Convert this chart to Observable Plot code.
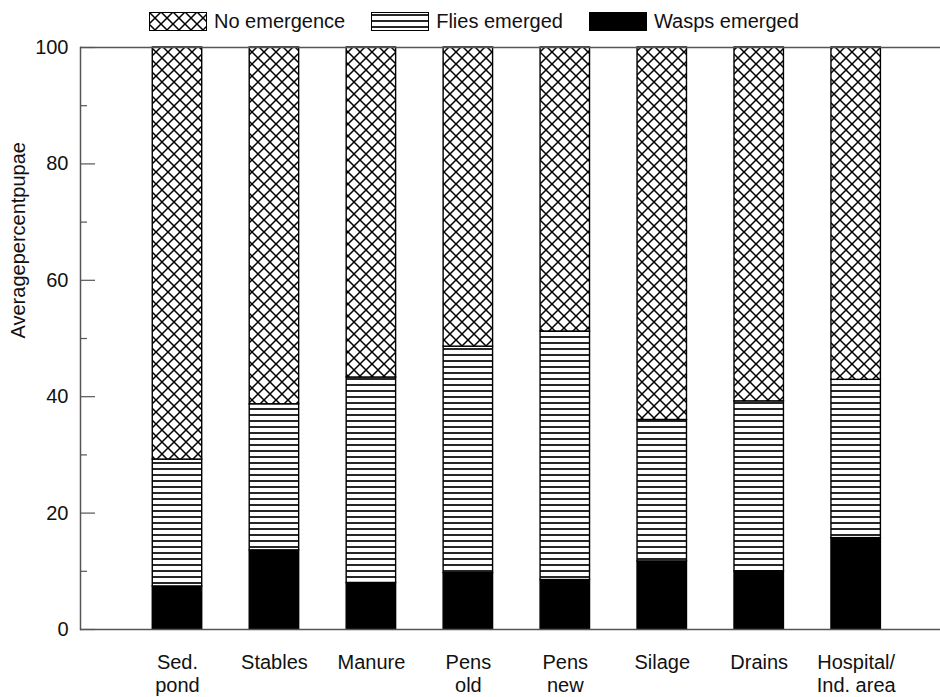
<!DOCTYPE html>
<html><head><meta charset="utf-8">
<script src="https://cdn.jsdelivr.net/npm/d3@7"></script>
<script src="https://cdn.jsdelivr.net/npm/@observablehq/plot@0.6"></script>
<style>
body{margin:0;background:#fff;font-family:"Liberation Sans",Arial,sans-serif;color:#111;width:940px;height:697px;overflow:hidden}
#legend{height:40px;display:flex;align-items:center;padding-left:149px;box-sizing:border-box;padding-top:2px;font-size:20px;gap:26px}
.item{display:flex;align-items:center}
.item svg{margin-right:7px;display:block}
</style></head><body>
<svg width="0" height="0" style="position:absolute">
  <defs>
    <pattern id="cross" patternUnits="userSpaceOnUse" width="12" height="12">
      <rect width="12" height="12" fill="white"/>
      <path d="M0,0L12,12M12,0L0,12" stroke="black" stroke-width="1.5"/>
    </pattern>
    <pattern id="hlines" patternUnits="userSpaceOnUse" width="6" height="6">
      <rect width="6" height="6" fill="white"/>
      <path d="M0,3H6" stroke="black" stroke-width="1.7"/>
    </pattern>
  </defs>
</svg>
<div id="legend"></div>
<div id="chart"></div>
<script>
const sites = ["Sed.\npond", "Stables", "Manure", "Pens\nold", "Pens\nnew", "Silage", "Drains", "Hospital/\nInd. area"];
const wasps = [7.4, 13.6, 8.0, 9.7, 8.5, 11.7, 10.0, 15.7];
const flies = [21.8, 25.1, 35.3, 38.9, 42.7, 24.3, 29.2, 27.2];
const noEmergence = [70.8, 61.3, 56.7, 51.4, 48.8, 64.0, 60.8, 57.1];
const series = ["Wasps emerged", "Flies emerged", "No emergence"];
const legendOrder = ["No emergence", "Flies emerged", "Wasps emerged"];
const yTicks = [0, 20, 40, 60, 80, 100];
const yMinorTicks = [10, 30, 50, 70, 90];
const yTitle = "Averagepercentpupae";

const fills = {"Wasps emerged": "black", "Flies emerged": "url(#hlines)", "No emergence": "url(#cross)"};
const seriesValues = {"Wasps emerged": wasps, "Flies emerged": flies, "No emergence": noEmergence};

const rows = [];
sites.forEach((s, i) => {
  series.forEach(t => rows.push({site: s, type: t, value: seriesValues[t][i]}));
});

// legend
const legend = d3.select("#legend");
legendOrder.forEach(t => {
  const it = legend.append("div").attr("class", "item");
  const sw = it.append("svg").attr("width", 58).attr("height", 19);
  sw.append("rect").attr("x", 0.5).attr("y", 0.5).attr("width", 57).attr("height", 18)
    .attr("fill", fills[t]).attr("stroke", "black").attr("stroke-width", 1);
  it.append("span").text(t);
});

const axisColor = "#555";
const chart = Plot.plot({
  width: 940,
  height: 657,
  marginTop: 7,
  marginLeft: 80,
  marginRight: 0,
  marginBottom: 68,
  style: {fontFamily: "Liberation Sans, Arial, sans-serif", fontSize: "20px", color: "#111", background: "white", overflow: "visible"},
  x: {domain: sites, paddingInner: 0.49, paddingOuter: 0.68, align: 0.548, round: false, label: null},
  y: {domain: [0, 100], label: null},
  color: {type: "ordinal", domain: series, range: series.map(s => fills[s])},
  marks: [
    Plot.barY(rows, {x: "site", y: "value", fill: "type", stroke: "black", strokeWidth: 1.4, order: series}),
    Plot.ruleY([0, 100], {stroke: axisColor, strokeWidth: 1.5}),
    Plot.ruleY(yTicks, {stroke: axisColor, strokeWidth: 1.2, insetRight: 845}),
    Plot.ruleY(yMinorTicks, {stroke: axisColor, strokeWidth: 1.2, insetRight: 853}),
    Plot.frame({anchor: "left", stroke: axisColor, strokeWidth: 1.5}),
    Plot.axisY({ticks: yTicks, tickSize: 0, tickPadding: 12, label: null, fill: "#111"}),
    Plot.axisX({tickSize: 0, tickPadding: 23, lineHeight: 1.15, label: null, fill: "#111"}),
    Plot.text([yTitle], {text: d => d, frameAnchor: "left", dx: -62, rotate: -90, fill: "#111"})
  ]
});
document.getElementById("chart").append(chart);
</script>
</body></html>
